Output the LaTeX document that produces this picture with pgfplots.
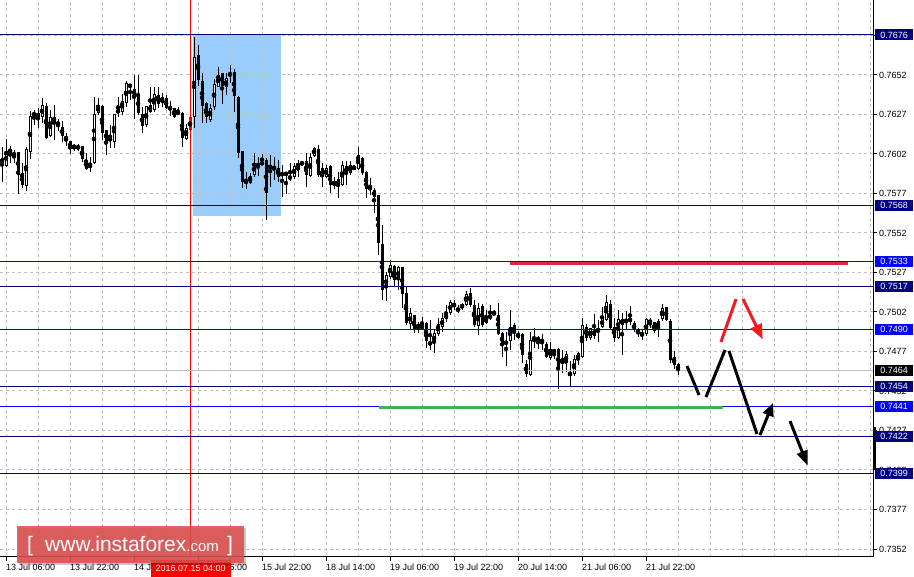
\documentclass[border=0pt]{standalone}
\usepackage{fontspec}
\setmainfont{Liberation Sans}
\usepackage{pgfplots}
\pgfplotsset{compat=1.18}
\usepackage{pgfplotstable}
\usetikzlibrary{arrows.meta}
\definecolor{navy}{RGB}{0,0,128}
\definecolor{lblue}{RGB}{0,0,255}
\definecolor{gridgray}{RGB}{192,192,192}
\definecolor{rectblue}{RGB}{153,204,255}
\definecolor{crim}{RGB}{226,36,72}
\definecolor{lgreen}{RGB}{60,180,80}
\definecolor{fred}{RGB}{237,28,36}
\definecolor{wm}{RGB}{220,79,79}

\pgfplotstableread{
x o h l c
0 0.75981 0.76050 0.75833 0.75949
1 0.75932 0.76101 0.75927 0.76029
2 0.76039 0.76058 0.75953 0.76016
3 0.76007 0.76037 0.75949 0.76005
4 0.76022 0.76023 0.75759 0.75875
5 0.75886 0.75949 0.75791 0.75812
6 0.75807 0.76050 0.75776 0.76037
7 0.76022 0.76281 0.75978 0.76248
8 0.76259 0.76286 0.76191 0.76260
9 0.76265 0.76297 0.76170 0.76243
10 0.76240 0.76360 0.76202 0.76317
11 0.76310 0.76332 0.76103 0.76113
12 0.76121 0.76286 0.76113 0.76240
13 0.76243 0.76317 0.76096 0.76212
14 0.76212 0.76227 0.76155 0.76187
15 0.76176 0.76218 0.76085 0.76123
16 0.76121 0.76142 0.76058 0.76096
17 0.76090 0.76092 0.76008 0.76037
18 0.76058 0.76075 0.76027 0.76048
19 0.76051 0.76071 0.76027 0.76050
20 0.76058 0.76060 0.75959 0.75976
21 0.75970 0.76016 0.75907 0.75915
22 0.75938 0.75987 0.75896 0.75927
23 0.75949 0.76366 0.75945 0.76259
24 0.76265 0.76360 0.76254 0.76317
25 0.76310 0.76317 0.76096 0.76142
26 0.76159 0.76160 0.76001 0.76085
27 0.76101 0.76191 0.76044 0.76100
28 0.76085 0.76262 0.76044 0.76261
29 0.76265 0.76366 0.76240 0.76290
30 0.76275 0.76391 0.76254 0.76345
31 0.76332 0.76471 0.76307 0.76455
32 0.76450 0.76452 0.76349 0.76429
33 0.76419 0.76507 0.76233 0.76376
34 0.76387 0.76507 0.76254 0.76265
35 0.76261 0.76307 0.76142 0.76187
36 0.76195 0.76311 0.76180 0.76310
37 0.76317 0.76429 0.76265 0.76275
38 0.76286 0.76429 0.76275 0.76385
39 0.76381 0.76429 0.76297 0.76324
40 0.76332 0.76391 0.76307 0.76366
41 0.76360 0.76381 0.76290 0.76297
42 0.76310 0.76345 0.76248 0.76286
43 0.76297 0.76298 0.76233 0.76243
44 0.76259 0.76303 0.76252 0.76279
45 0.76265 0.76275 0.76054 0.76107
46 0.76101 0.76197 0.76096 0.76170
47 0.76159 0.76243 0.76149 0.76240
48 0.76243 0.76745 0.76170 0.76623
49 0.76633 0.76697 0.76438 0.76475
50 0.76471 0.76522 0.76206 0.76310
51 0.76328 0.76338 0.76206 0.76240
52 0.76223 0.76324 0.76212 0.76297
53 0.76307 0.76480 0.76286 0.76450
54 0.76433 0.76556 0.76429 0.76507
55 0.76522 0.76523 0.76324 0.76438
56 0.76433 0.76522 0.76381 0.76486
57 0.76501 0.76570 0.76455 0.76522
58 0.76528 0.76549 0.76275 0.76374
59 0.76370 0.76374 0.75981 0.76016
60 0.76029 0.76030 0.75791 0.75833
61 0.75839 0.75896 0.75785 0.75826
62 0.75826 0.75886 0.75818 0.75869
63 0.75875 0.76016 0.75864 0.75949
64 0.75939 0.75987 0.75869 0.75937
65 0.75955 0.76008 0.75938 0.75945
66 0.75970 0.75981 0.75591 0.75759
67 0.75938 0.76001 0.75801 0.75917
68 0.75911 0.75991 0.75843 0.75932
69 0.75917 0.75970 0.75833 0.75864
70 0.75882 0.75938 0.75738 0.75880
71 0.75890 0.75891 0.75759 0.75875
72 0.75871 0.75949 0.75839 0.75848
73 0.75861 0.75953 0.75848 0.75932
74 0.75939 0.75970 0.75864 0.75937
75 0.75955 0.75965 0.75932 0.75945
76 0.75965 0.76016 0.75797 0.75875
77 0.75871 0.76012 0.75864 0.75987
78 0.75997 0.76054 0.75991 0.76050
79 0.76039 0.76065 0.75864 0.75875
80 0.75917 0.75949 0.75801 0.75864
81 0.75864 0.75938 0.75854 0.75917
82 0.75932 0.75938 0.75759 0.75812
83 0.75807 0.75864 0.75785 0.75839
84 0.75848 0.75896 0.75728 0.75806
85 0.75812 0.75965 0.75806 0.75938
86 0.75932 0.75965 0.75812 0.75879
87 0.75886 0.75965 0.75875 0.75938
88 0.75932 0.75938 0.75907 0.75911
89 0.75917 0.76054 0.75911 0.76001
90 0.75987 0.75991 0.75875 0.75886
91 0.75896 0.75902 0.75728 0.75791
92 0.75801 0.75854 0.75749 0.75785
93 0.75780 0.75797 0.75637 0.75738
94 0.75749 0.75750 0.75369 0.75447
95 0.75439 0.75559 0.75085 0.75148
96 0.75159 0.75264 0.75079 0.75243
97 0.75232 0.75338 0.75216 0.75306
98 0.75300 0.75306 0.75169 0.75211
99 0.75211 0.75300 0.75148 0.75295
100 0.75292 0.75296 0.75033 0.75123
101 0.75127 0.75169 0.74927 0.74938
102 0.74933 0.75033 0.74895 0.75001
103 0.74990 0.74991 0.74875 0.74895
104 0.74933 0.74948 0.74875 0.74906
105 0.74917 0.74980 0.74895 0.74915
106 0.74938 0.74948 0.74780 0.74828
107 0.74822 0.74959 0.74769 0.74801
108 0.74811 0.74895 0.74748 0.74878
109 0.74870 0.74969 0.74858 0.74933
110 0.74916 0.75001 0.74885 0.74969
111 0.74963 0.75053 0.74948 0.75005
112 0.75001 0.75089 0.74990 0.75074
113 0.75064 0.75085 0.75022 0.75043
114 0.75033 0.75053 0.75001 0.75017
115 0.75033 0.75068 0.75022 0.75060
116 0.75053 0.75144 0.75047 0.75123
117 0.75131 0.75159 0.75043 0.75053
118 0.75053 0.75085 0.74916 0.74927
119 0.74921 0.75064 0.74864 0.75033
120 0.75049 0.75060 0.74916 0.74927
121 0.74938 0.75022 0.74933 0.74980
122 0.74969 0.75053 0.74959 0.74990
123 0.75002 0.75022 0.74990 0.75000
124 0.74990 0.75064 0.74864 0.74870
125 0.74878 0.74885 0.74727 0.74801
126 0.74822 0.74885 0.74668 0.74811
127 0.74828 0.75022 0.74769 0.74916
128 0.74931 0.74938 0.74832 0.74875
129 0.74878 0.74889 0.74839 0.74847
130 0.74868 0.74875 0.74691 0.74737
131 0.74679 0.74706 0.74600 0.74622
132 0.74615 0.74885 0.74607 0.74832
133 0.74847 0.74906 0.74784 0.74822
134 0.74840 0.74859 0.74780 0.74838
135 0.74832 0.74868 0.74769 0.74822
136 0.74811 0.74818 0.74720 0.74727
137 0.74720 0.74818 0.74706 0.74775
138 0.74764 0.74775 0.74712 0.74762
139 0.74780 0.74784 0.74523 0.74643
140 0.74720 0.74769 0.74622 0.74679
141 0.74691 0.74763 0.74632 0.74742
142 0.74628 0.74700 0.74537 0.74607
143 0.74615 0.74737 0.74607 0.74712
144 0.74706 0.74758 0.74674 0.74748
145 0.74727 0.74973 0.74720 0.74931
146 0.74916 0.74931 0.74826 0.74847
147 0.74847 0.74910 0.74832 0.74906
148 0.74859 0.75001 0.74843 0.74895
149 0.74881 0.74959 0.74822 0.74910
150 0.74916 0.75043 0.74910 0.74969
151 0.74959 0.75121 0.74952 0.75070
152 0.75058 0.75085 0.74895 0.74910
153 0.74916 0.74969 0.74818 0.74843
154 0.74847 0.75022 0.74839 0.74965
155 0.74965 0.75001 0.74737 0.74931
156 0.74938 0.75016 0.74895 0.74965
157 0.74973 0.75049 0.74927 0.74948
158 0.74938 0.74952 0.74885 0.74895
159 0.74895 0.74910 0.74853 0.74881
160 0.74875 0.74902 0.74832 0.74868
161 0.74868 0.74973 0.74859 0.74965
162 0.74959 0.74969 0.74906 0.74938
163 0.74944 0.74948 0.74881 0.74889
164 0.74910 0.74969 0.74853 0.74952
165 0.74965 0.75058 0.74952 0.75033
166 0.75043 0.75044 0.74952 0.74959
167 0.74952 0.74969 0.74691 0.74706
168 0.74727 0.74763 0.74649 0.74674
169 0.74679 0.74685 0.74611 0.74640
}\candles

\tikzset{pl/.style={anchor=west, inner sep=0pt, minimum width=38pt, minimum height=11pt,
  text=white, font=\fontsize{9}{10}\selectfont, xshift=2pt}}

\begin{document}
\begin{tikzpicture}
\begin{axis}[
  set layers,
  at={(0,0)}, anchor=south west,
  width=873pt, height=557pt, scale only axis,
  xmin=-0.5, xmax=217.75, ymin=0.73461, ymax=0.76981,
  clip=false,
  axis x line*=bottom, axis y line*=right,
  axis line style={black, line width=1pt},
  tick align=outside, major tick length=4pt, minor tick length=0pt,
  tick style={black, line width=1pt},
  xtick={1,17,...,161},
  xticklabels={13 Jul 06:00,13 Jul 22:00,14 Jul 14:00,15 Jul 06:00,15 Jul 22:00,18 Jul 14:00,19 Jul 06:00,19 Jul 22:00,20 Jul 14:00,21 Jul 06:00,21 Jul 22:00},
  minor xtick={9,17,...,217},
  ytick={0.735115,0.737612,0.740108,0.742604,0.745101,0.747597,0.750094,0.75259,0.755086,0.757583,0.760079,0.762576,0.765072,0.767568},
  yticklabels={0.7352,0.7377,0.7402,0.7427,0.7452,0.7477,0.7502,0.7527,0.7552,0.7577,0.7602,0.7627,0.7652,0.7677},
  xmajorgrids, xminorgrids, ymajorgrids,
  grid style={gridgray, dash pattern=on 3pt off 3pt, line width=1pt},
  minor grid style={gridgray, dash pattern=on 3pt off 3pt, line width=1pt},
  tick label style={font=\fontsize{9}{10}\selectfont, text=black},
  xticklabel style={anchor=north west, inner sep=0pt, yshift=-3pt},
  yticklabel style={anchor=west, inner sep=0pt, xshift=2pt},
]
% highlighted rectangle
\addplot[on layer=axis background, fill=rectblue, draw=none] coordinates {(47.75,0.75616) (69.75,0.75616) (69.75,0.76766) (47.75,0.76766)} -- cycle;

% wicks
\addplot[only marks, mark=none, error bars/.cd, y dir=both, y explicit, error mark=none,
  error bar style={line width=1pt, black}]
  table[x=x, y expr={(\thisrow{h}+\thisrow{l})/2}, y error expr={(\thisrow{h}-\thisrow{l})/2}] {\candles};
% bodies
\addplot[only marks, mark=none, error bars/.cd, y dir=both, y explicit, error mark=none,
  error bar style={line width=3pt, black, line cap=butt}]
  table[x=x, y expr={(\thisrow{o}+\thisrow{c})/2}, y error expr={max(abs(\thisrow{c}-\thisrow{o})/2,0.00003)}] {\candles};
% white interior of bullish bodies
\addplot[only marks, mark=none, error bars/.cd, y dir=both, y explicit, error mark=none,
  error bar style={line width=1pt, white, line cap=butt}]
  table[x=x, y expr={(\thisrow{o}+\thisrow{c})/2}, y error expr={max((\thisrow{c}-\thisrow{o})/2-0.0000632,0)}] {\candles};
% highlighted candle
\addplot[only marks, mark=none, error bars/.cd, y dir=both, y explicit, error mark=none,
  error bar style={line width=3pt, red, line cap=butt}]
  coordinates {(47,0.761995) +- (0,0.000405)};

% vertical red line
\addplot[red, line width=1pt] coordinates {(47.17,0.73461) (47.17,0.76981)};

% horizontal levels
\addplot[gridgray, line width=1pt] coordinates {(-0.5,0.7464) (217.75,0.7464)};
\addplot[navy, line width=1pt] coordinates {(-0.5,0.7676) (217.75,0.7676)};
\addplot[navy, line width=1pt] coordinates {(-0.5,0.7568) (217.75,0.7568)};
\addplot[lblue, line width=1pt] coordinates {(-0.5,0.7533) (217.75,0.7533)};
\addplot[navy, line width=1pt] coordinates {(-0.5,0.7517) (217.75,0.7517)};
\addplot[lblue, line width=1pt] coordinates {(-0.5,0.7490) (217.75,0.7490)};
\addplot[navy, line width=1pt] coordinates {(-0.5,0.7454) (217.75,0.7454)};
\addplot[lblue, line width=1pt] coordinates {(-0.5,0.7441) (217.75,0.7441)};
\addplot[navy, line width=1pt] coordinates {(-0.5,0.7422) (217.75,0.7422)};
\addplot[navy, line width=1pt] coordinates {(-0.5,0.7399) (217.75,0.7399)};

% resistance / support segments
\addplot[crim, line width=3pt] coordinates {(127,0.75316) (211.5,0.75316)};
\addplot[lgreen, line width=3pt] coordinates {(94.25,0.74406) (180.25,0.74406)};

% forecast path
\addplot[black, line width=3pt] coordinates {(171.25,0.74668) (174.25,0.74485)};
\addplot[black, line width=3pt] coordinates {(176,0.74472) (180.75,0.74769)};
\addplot[black, line width=3pt] coordinates {(181.75,0.74763) (188.75,0.74238)};
\addplot[black, line width=3pt, -{Triangle[length=13pt,width=11pt]}] coordinates {(189.5,0.74232) (192.75,0.74434)};
\addplot[black, line width=3pt, -{Triangle[length=15pt,width=11pt]}] coordinates {(197,0.74320) (201.43,0.74038)};
\addplot[fred, line width=3pt] coordinates {(179.75,0.74820) (183.5,0.75091)};
\addplot[fred, line width=3pt, -{Triangle[length=15pt,width=12pt]}] coordinates {(185.25,0.75091) (190.18,0.74837)};

% bar on the price scale
\addplot[black, line width=3pt] coordinates {(218.125,0.74282) (218.125,0.74011)};

% price labels
\node[pl, fill=navy] at (axis cs:217.75,0.7676) {0.7676};
\node[pl, fill=navy] at (axis cs:217.75,0.7568) {0.7568};
\node[pl, fill=lblue] at (axis cs:217.75,0.7533) {0.7533};
\node[pl, fill=navy] at (axis cs:217.75,0.7517) {0.7517};
\node[pl, fill=lblue] at (axis cs:217.75,0.7490) {0.7490};
\node[pl, fill=black] at (axis cs:217.75,0.7464) {0.7464};
\node[pl, fill=navy] at (axis cs:217.75,0.7454) {0.7454};
\node[pl, fill=lblue] at (axis cs:217.75,0.7441) {0.7441};
\node[pl, fill=navy] at (axis cs:217.75,0.7422) {0.7422};
\node[pl, fill=navy] at (axis cs:217.75,0.7399) {0.7399};

% date label
\node[anchor=north, fill=red, text=white, inner sep=0pt, minimum width=80pt, minimum height=17pt,
  font=\fontsize{9}{10}\selectfont, yshift=-3pt] at (axis cs:47.17,0.73461) {2016.07.15 04:00};
\end{axis}

% watermark
\fill[black, opacity=0.22] (19pt,-8pt) rectangle (246pt,29pt);
\fill[wm, opacity=0.88] (17pt,-6pt) rectangle (244pt,31pt);
\node[anchor=base west, inner sep=0pt, text=white, font=\fontsize{21}{21}\selectfont] at (27pt,5pt) {[};
\node[anchor=base west, inner sep=0pt, text=white, font=\fontsize{21}{21}\selectfont] at (45pt,5pt) {www.instaforex{\fontsize{15}{15}\selectfont.com}};
\node[anchor=base west, inner sep=0pt, text=white, font=\fontsize{21}{21}\selectfont] at (227pt,5pt) {]};
\pgfresetboundingbox
\path[use as bounding box] (0,-20pt) rectangle (914pt,557pt);
\end{tikzpicture}
\end{document}
